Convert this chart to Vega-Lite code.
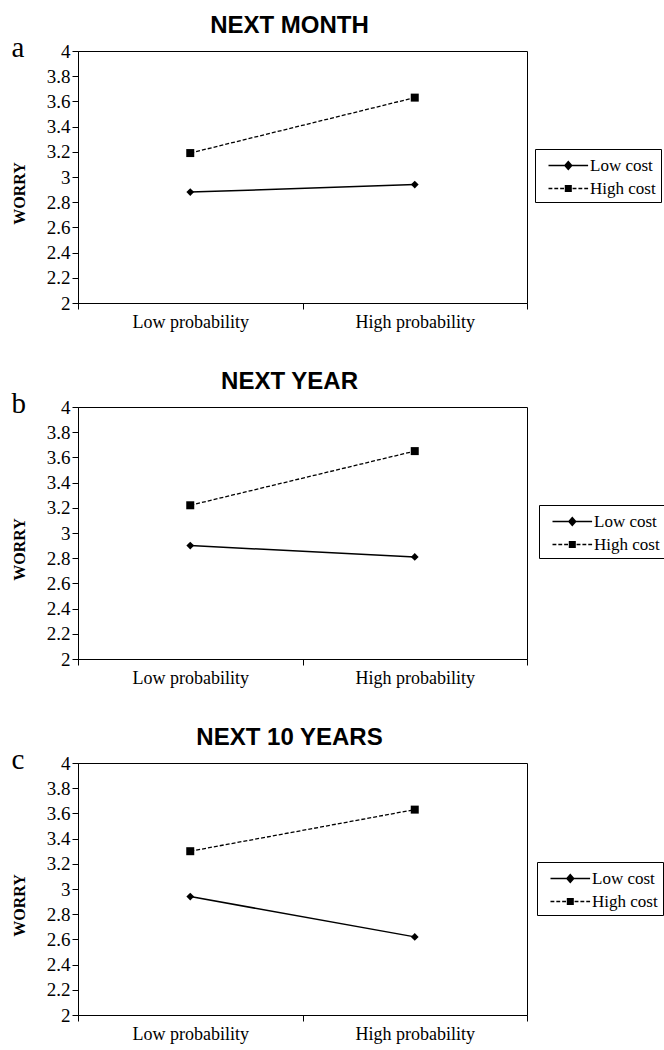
{
  "$schema": "https://vega.github.io/schema/vega-lite/v6.json",
  "padding": {"left": 10, "top": 13, "right": 0, "bottom": 0},
  "background": "white",
  "data": {"values": [
    {"panel": "a", "cost": "Low cost", "prob": "Low probability", "worry": 2.88},
    {"panel": "a", "cost": "Low cost", "prob": "High probability", "worry": 2.94},
    {"panel": "a", "cost": "High cost", "prob": "Low probability", "worry": 3.19},
    {"panel": "a", "cost": "High cost", "prob": "High probability", "worry": 3.63},
    {"panel": "b", "cost": "Low cost", "prob": "Low probability", "worry": 2.90},
    {"panel": "b", "cost": "Low cost", "prob": "High probability", "worry": 2.81},
    {"panel": "b", "cost": "High cost", "prob": "Low probability", "worry": 3.22},
    {"panel": "b", "cost": "High cost", "prob": "High probability", "worry": 3.65},
    {"panel": "c", "cost": "Low cost", "prob": "Low probability", "worry": 2.94},
    {"panel": "c", "cost": "Low cost", "prob": "High probability", "worry": 2.62},
    {"panel": "c", "cost": "High cost", "prob": "Low probability", "worry": 3.30},
    {"panel": "c", "cost": "High cost", "prob": "High probability", "worry": 3.63}
  ]},
  "resolve": {"scale": {"shape": "independent"}, "legend": {"shape": "independent"}},
  "vconcat": [
    {
      "width": 449, "height": 252,
      "title": {"text": "NEXT MONTH"},
      "transform": [{"filter": "datum.panel === 'a'"}],
      "layer": [
        {"transform": [{"filter": "datum.cost === 'Low cost'"}],
         "mark": {"type": "line", "color": "black", "strokeWidth": 1.5},
         "encoding": {
           "x": {"field": "prob", "type": "nominal", "sort": ["Low probability", "High probability"], "scale": {"type": "band", "paddingInner": 0, "paddingOuter": 0},
                 "axis": {"title": null, "labelAngle": 0, "tickBand": "extent", "tickSize": 6, "labelPadding": 4, "labelFont": "Liberation Serif", "labelFontSize": 18, "labelColor": "black", "domainColor": "black", "tickColor": "black"}},
           "y": {"field": "worry", "type": "quantitative", "scale": {"domain": [2, 4]},
                 "axis": {"orient": "left", "title": "WORRY", "titleFont": "Liberation Serif", "titleFontSize": 16, "titleFontWeight": "bold", "titleAngle": -90, "titleX": -59, "titleY": 142, "titleAlign": "center", "titleBaseline": "middle", "values": [2, 2.2, 2.4, 2.6, 2.8, 3, 3.2, 3.4, 3.6, 3.8, 4], "format": "~g", "labelFont": "Liberation Serif", "labelFontSize": 19, "labelColor": "black", "tickSize": 6, "labelPadding": 2, "domainColor": "black", "tickColor": "black", "grid": false}}
         }},
        {"transform": [{"filter": "datum.cost === 'High cost'"}],
         "mark": {"type": "line", "color": "black", "strokeWidth": 1.3, "strokeDash": [4, 2]},
         "encoding": {
           "x": {"field": "prob", "type": "nominal", "sort": ["Low probability", "High probability"]},
           "y": {"field": "worry", "type": "quantitative", "axis": null}
         }},
        {"transform": [{"filter": "datum.cost === 'Low cost'"}],
         "mark": {"type": "point", "shape": "diamond", "filled": true, "color": "black", "opacity": 1, "size": 60},
         "encoding": {
           "x": {"field": "prob", "type": "nominal", "sort": ["Low probability", "High probability"]},
           "y": {"field": "worry", "type": "quantitative", "axis": null}
         }},
        {"transform": [{"filter": "datum.cost === 'High cost'"}],
         "mark": {"type": "point", "shape": "square", "filled": true, "color": "black", "opacity": 1, "size": 64},
         "encoding": {
           "x": {"field": "prob", "type": "nominal", "sort": ["Low probability", "High probability"]},
           "y": {"field": "worry", "type": "quantitative", "axis": null}
         }},
        {"mark": {"type": "point", "filled": true, "color": "black", "opacity": 0},
         "encoding": {
           "x": {"field": "prob", "type": "nominal", "sort": ["Low probability", "High probability"]},
           "y": {"field": "worry", "type": "quantitative", "axis": {"orient": "left", "title": "a", "titleFont": "Liberation Serif", "titleFontSize": 29, "titleFontWeight": "normal", "titleColor": "black", "titleAngle": 0, "titleX": -67, "titleY": 5, "titleAlign": "left", "titleBaseline": "alphabetic", "labels": false, "ticks": false, "domain": false, "grid": false}},
           "shape": {"field": "cost", "type": "nominal", "scale": {"domain": ["Low cost", "High cost"], "range": ["M-1,-0.07H2.6V0.07H-1ZM0.8,-0.45L1.2,0L0.8,0.45L0.4,0Z", "M-1,-0.07H-0.65V0.07H-1ZM-0.47,-0.07H-0.12V0.07H-0.47ZM0.06,-0.07H0.41V0.07H0.06ZM1.19,-0.07H1.54V0.07H1.19ZM1.72,-0.07H2.07V0.07H1.72ZM2.25,-0.07H2.6V0.07H2.25ZM0.48,-0.32H1.12V0.32H0.48Z"]},
                     "legend": {"orient": "none", "legendX": 457, "legendY": 98, "title": null, "strokeColor": "black", "padding": 5, "symbolOffset": 8, "symbolSize": 484, "symbolStrokeWidth": 0.4, "symbolStrokeColor": "black", "symbolFillColor": "black", "labelOffset": 19, "labelFont": "Liberation Serif", "labelFontSize": 17, "labelColor": "black", "rowPadding": 3,
                                "encode": {"symbols": {"opacity": {"value": 1}, "fill": {"value": "black"}, "fillOpacity": {"value": 1}}}}}
         }}
      ],
      "resolve": {"axis": {"y": "independent"}}
    },
    {
      "width": 449, "height": 252,
      "title": {"text": "NEXT YEAR"},
      "transform": [{"filter": "datum.panel === 'b'"}],
      "layer": [
        {"transform": [{"filter": "datum.cost === 'Low cost'"}],
         "mark": {"type": "line", "color": "black", "strokeWidth": 1.5},
         "encoding": {
           "x": {"field": "prob", "type": "nominal", "sort": ["Low probability", "High probability"], "scale": {"type": "band", "paddingInner": 0, "paddingOuter": 0},
                 "axis": {"title": null, "labelAngle": 0, "tickBand": "extent", "tickSize": 6, "labelPadding": 4, "labelFont": "Liberation Serif", "labelFontSize": 18, "labelColor": "black", "domainColor": "black", "tickColor": "black"}},
           "y": {"field": "worry", "type": "quantitative", "scale": {"domain": [2, 4]},
                 "axis": {"orient": "left", "title": "WORRY", "titleFont": "Liberation Serif", "titleFontSize": 16, "titleFontWeight": "bold", "titleAngle": -90, "titleX": -59, "titleY": 142, "titleAlign": "center", "titleBaseline": "middle", "values": [2, 2.2, 2.4, 2.6, 2.8, 3, 3.2, 3.4, 3.6, 3.8, 4], "format": "~g", "labelFont": "Liberation Serif", "labelFontSize": 19, "labelColor": "black", "tickSize": 6, "labelPadding": 2, "domainColor": "black", "tickColor": "black", "grid": false}}
         }},
        {"transform": [{"filter": "datum.cost === 'High cost'"}],
         "mark": {"type": "line", "color": "black", "strokeWidth": 1.3, "strokeDash": [4, 2]},
         "encoding": {
           "x": {"field": "prob", "type": "nominal", "sort": ["Low probability", "High probability"]},
           "y": {"field": "worry", "type": "quantitative", "axis": null}
         }},
        {"transform": [{"filter": "datum.cost === 'Low cost'"}],
         "mark": {"type": "point", "shape": "diamond", "filled": true, "color": "black", "opacity": 1, "size": 60},
         "encoding": {
           "x": {"field": "prob", "type": "nominal", "sort": ["Low probability", "High probability"]},
           "y": {"field": "worry", "type": "quantitative", "axis": null}
         }},
        {"transform": [{"filter": "datum.cost === 'High cost'"}],
         "mark": {"type": "point", "shape": "square", "filled": true, "color": "black", "opacity": 1, "size": 64},
         "encoding": {
           "x": {"field": "prob", "type": "nominal", "sort": ["Low probability", "High probability"]},
           "y": {"field": "worry", "type": "quantitative", "axis": null}
         }},
        {"mark": {"type": "point", "filled": true, "color": "black", "opacity": 0},
         "encoding": {
           "x": {"field": "prob", "type": "nominal", "sort": ["Low probability", "High probability"]},
           "y": {"field": "worry", "type": "quantitative", "axis": {"orient": "left", "title": "b", "titleFont": "Liberation Serif", "titleFontSize": 29, "titleFontWeight": "normal", "titleColor": "black", "titleAngle": 0, "titleX": -67, "titleY": 5, "titleAlign": "left", "titleBaseline": "alphabetic", "labels": false, "ticks": false, "domain": false, "grid": false}},
           "shape": {"field": "cost", "type": "nominal", "scale": {"domain": ["Low cost", "High cost"], "range": ["M-1,-0.07H2.6V0.07H-1ZM0.8,-0.45L1.2,0L0.8,0.45L0.4,0Z", "M-1,-0.07H-0.65V0.07H-1ZM-0.47,-0.07H-0.12V0.07H-0.47ZM0.06,-0.07H0.41V0.07H0.06ZM1.19,-0.07H1.54V0.07H1.19ZM1.72,-0.07H2.07V0.07H1.72ZM2.25,-0.07H2.6V0.07H2.25ZM0.48,-0.32H1.12V0.32H0.48Z"]},
                     "legend": {"orient": "none", "legendX": 461, "legendY": 98, "title": null, "strokeColor": "black", "padding": 5, "symbolOffset": 8, "symbolSize": 484, "symbolStrokeWidth": 0.4, "symbolStrokeColor": "black", "symbolFillColor": "black", "labelOffset": 19, "labelFont": "Liberation Serif", "labelFontSize": 17, "labelColor": "black", "rowPadding": 3,
                                "encode": {"symbols": {"opacity": {"value": 1}, "fill": {"value": "black"}, "fillOpacity": {"value": 1}}}}}
         }}
      ],
      "resolve": {"axis": {"y": "independent"}}
    },
    {
      "width": 449, "height": 252,
      "title": {"text": "NEXT 10 YEARS"},
      "transform": [{"filter": "datum.panel === 'c'"}],
      "layer": [
        {"transform": [{"filter": "datum.cost === 'Low cost'"}],
         "mark": {"type": "line", "color": "black", "strokeWidth": 1.5},
         "encoding": {
           "x": {"field": "prob", "type": "nominal", "sort": ["Low probability", "High probability"], "scale": {"type": "band", "paddingInner": 0, "paddingOuter": 0},
                 "axis": {"title": null, "labelAngle": 0, "tickBand": "extent", "tickSize": 6, "labelPadding": 4, "labelFont": "Liberation Serif", "labelFontSize": 18, "labelColor": "black", "domainColor": "black", "tickColor": "black"}},
           "y": {"field": "worry", "type": "quantitative", "scale": {"domain": [2, 4]},
                 "axis": {"orient": "left", "title": "WORRY", "titleFont": "Liberation Serif", "titleFontSize": 16, "titleFontWeight": "bold", "titleAngle": -90, "titleX": -59, "titleY": 142, "titleAlign": "center", "titleBaseline": "middle", "values": [2, 2.2, 2.4, 2.6, 2.8, 3, 3.2, 3.4, 3.6, 3.8, 4], "format": "~g", "labelFont": "Liberation Serif", "labelFontSize": 19, "labelColor": "black", "tickSize": 6, "labelPadding": 2, "domainColor": "black", "tickColor": "black", "grid": false}}
         }},
        {"transform": [{"filter": "datum.cost === 'High cost'"}],
         "mark": {"type": "line", "color": "black", "strokeWidth": 1.3, "strokeDash": [4, 2]},
         "encoding": {
           "x": {"field": "prob", "type": "nominal", "sort": ["Low probability", "High probability"]},
           "y": {"field": "worry", "type": "quantitative", "axis": null}
         }},
        {"transform": [{"filter": "datum.cost === 'Low cost'"}],
         "mark": {"type": "point", "shape": "diamond", "filled": true, "color": "black", "opacity": 1, "size": 60},
         "encoding": {
           "x": {"field": "prob", "type": "nominal", "sort": ["Low probability", "High probability"]},
           "y": {"field": "worry", "type": "quantitative", "axis": null}
         }},
        {"transform": [{"filter": "datum.cost === 'High cost'"}],
         "mark": {"type": "point", "shape": "square", "filled": true, "color": "black", "opacity": 1, "size": 64},
         "encoding": {
           "x": {"field": "prob", "type": "nominal", "sort": ["Low probability", "High probability"]},
           "y": {"field": "worry", "type": "quantitative", "axis": null}
         }},
        {"mark": {"type": "point", "filled": true, "color": "black", "opacity": 0},
         "encoding": {
           "x": {"field": "prob", "type": "nominal", "sort": ["Low probability", "High probability"]},
           "y": {"field": "worry", "type": "quantitative", "axis": {"orient": "left", "title": "c", "titleFont": "Liberation Serif", "titleFontSize": 29, "titleFontWeight": "normal", "titleColor": "black", "titleAngle": 0, "titleX": -67, "titleY": 5, "titleAlign": "left", "titleBaseline": "alphabetic", "labels": false, "ticks": false, "domain": false, "grid": false}},
           "shape": {"field": "cost", "type": "nominal", "scale": {"domain": ["Low cost", "High cost"], "range": ["M-1,-0.07H2.6V0.07H-1ZM0.8,-0.45L1.2,0L0.8,0.45L0.4,0Z", "M-1,-0.07H-0.65V0.07H-1ZM-0.47,-0.07H-0.12V0.07H-0.47ZM0.06,-0.07H0.41V0.07H0.06ZM1.19,-0.07H1.54V0.07H1.19ZM1.72,-0.07H2.07V0.07H1.72ZM2.25,-0.07H2.6V0.07H2.25ZM0.48,-0.32H1.12V0.32H0.48Z"]},
                     "legend": {"orient": "none", "legendX": 459, "legendY": 99, "title": null, "strokeColor": "black", "padding": 5, "symbolOffset": 8, "symbolSize": 484, "symbolStrokeWidth": 0.4, "symbolStrokeColor": "black", "symbolFillColor": "black", "labelOffset": 19, "labelFont": "Liberation Serif", "labelFontSize": 17, "labelColor": "black", "rowPadding": 3,
                                "encode": {"symbols": {"opacity": {"value": 1}, "fill": {"value": "black"}, "fillOpacity": {"value": 1}}}}}
         }}
      ],
      "resolve": {"axis": {"y": "independent"}}
    }
  ],
  "config": {
    "view": {"stroke": "black", "strokeWidth": 1},
    "concat": {"spacing": 37},
    "axis": {"grid": false, "domainColor": "black", "tickColor": "black", "labelColor": "black", "titleColor": "black"},
    "title": {"font": "Liberation Sans", "fontSize": 24, "fontWeight": "bold", "color": "black", "dx": -13, "offset": -5}
  }
}
